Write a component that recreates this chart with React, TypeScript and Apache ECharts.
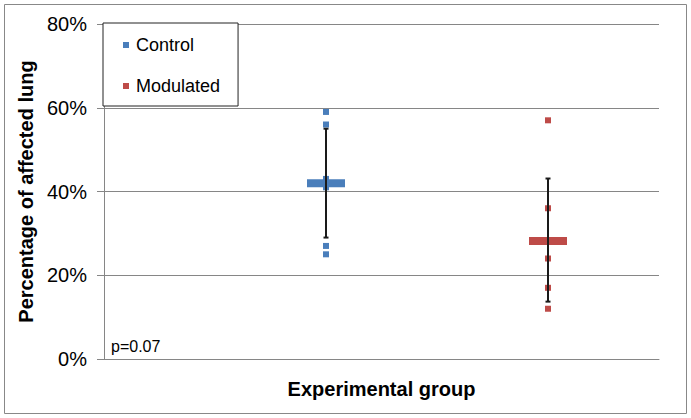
import React, { useEffect, useRef } from "react";
import * as echarts from "echarts";

const groupX = [1, 2];
const seriesNames = ["Control", "Modulated"];
const controlValues = [0.59, 0.56, 0.43, 0.41, 0.27, 0.25];
const modulatedValues = [0.57, 0.36, 0.24, 0.17, 0.12];
const meanValues = [0.42, 0.282];
const errorLow = [0.29, 0.137];
const errorHigh = [0.55, 0.431];
const yTicks = [0, 0.2, 0.4, 0.6, 0.8];
const pValueText = "p=0.07";

const FONT = 'Arial, "Liberation Sans", sans-serif';
const colors = ["#4A7EBB", "#BE4B48"];

export default function App() {
  const ref = useRef<HTMLDivElement>(null);
  useEffect(() => {
    document.body.style.margin = "0";
    if (!ref.current) return;
    const chart = echarts.init(ref.current, null, { renderer: "svg" });
    const pointsSeries = [controlValues, modulatedValues].map((vals, i) => ({
      name: seriesNames[i],
      type: "scatter",
      symbol: "rect",
      symbolSize: 6,
      itemStyle: { color: colors[i], opacity: 1 },
      data: vals.map((v) => [groupX[i], v]),
      z: 2,
    }));
    const meanSeries = meanValues.map((m, i) => ({
      name: seriesNames[i] + " mean",
      type: "scatter",
      symbol: "rect",
      symbolSize: [38, 8],
      itemStyle: { color: colors[i], opacity: 1 },
      data: [[groupX[i], m]],
      z: 3,
    }));
    const errSeries = {
      name: "error",
      type: "custom",
      z: 4,
      data: groupX.map((x, i) => [x, errorLow[i], errorHigh[i]]),
      renderItem: (params: any, api: any) => {
        const x = api.value(0);
        const lo = api.coord([x, api.value(1)]);
        const hi = api.coord([x, api.value(2)]);
        const style = { stroke: "#1a1a1a", lineWidth: 2 };
        const cw = 2.5;
        return {
          type: "group",
          children: [
            { type: "line", shape: { x1: lo[0], y1: lo[1], x2: hi[0], y2: hi[1] }, style },
            { type: "line", shape: { x1: lo[0] - cw, y1: lo[1], x2: lo[0] + cw, y2: lo[1] }, style },
            { type: "line", shape: { x1: hi[0] - cw, y1: hi[1], x2: hi[0] + cw, y2: hi[1] }, style },
          ],
        };
      },
    };
    chart.setOption({
      animation: false,
      backgroundColor: "#ffffff",
      textStyle: { fontFamily: FONT },
      grid: { left: 104, right: 32, top: 24, bottom: 59, containLabel: false },
      legend: {
        data: seriesNames,
        orient: "vertical",
        left: 103,
        top: 23,
        icon: "rect",
        itemWidth: 6,
        itemHeight: 6,
        itemGap: 21,
        padding: [12, 18, 10, 20],
        borderColor: "#222222",
        borderWidth: 1,
        backgroundColor: "#ffffff",
        itemStyle: { opacity: 1 },
        textStyle: { fontSize: 18, color: "#000000", fontFamily: FONT, lineHeight: 20, padding: [0, 0, 0, 2] },
        selectedMode: false,
        z: 10,
      },
      xAxis: {
        type: "value",
        min: 0,
        max: 2.5,
        interval: 0.5,
        name: "Experimental group",
        nameLocation: "middle",
        nameGap: 20,
        nameTextStyle: { fontSize: 20, fontWeight: "bold", color: "#000000", fontFamily: FONT, verticalAlign: "top" },
        axisLine: { show: true, lineStyle: { color: "#868686", width: 1 } },
        axisTick: { show: false },
        axisLabel: { show: false },
        splitLine: { show: false },
      },
      yAxis: {
        type: "value",
        min: yTicks[0],
        max: yTicks[yTicks.length - 1],
        interval: 0.2,
        name: "Percentage of affected lung",
        nameLocation: "middle",
        nameGap: 62,
        nameTextStyle: { fontSize: 20, fontWeight: "bold", color: "#000000", fontFamily: FONT },
        axisLine: { show: true, lineStyle: { color: "#868686", width: 1 } },
        axisTick: { show: true, length: 7, lineStyle: { color: "#868686" } },
        axisLabel: {
          fontSize: 20,
          color: "#000000",
          fontFamily: FONT,
          margin: 17,
          formatter: (v: number) => Math.round(v * 100) + "%",
        },
        splitLine: { show: true, lineStyle: { color: "#868686", width: 1 } },
      },
      graphic: [
        {
          type: "rect",
          shape: { x: 4.5, y: 4.5, width: 682, height: 409 },
          style: { fill: "none", stroke: "#888888", lineWidth: 1 },
          silent: true,
        },
        {
          type: "text",
          left: 111,
          top: 338,
          style: { text: pValueText, fontSize: 16, fill: "#000000", fontFamily: FONT },
          z: 10,
        },
      ],
      series: [...pointsSeries, ...meanSeries, errSeries],
    });
    return () => chart.dispose();
  }, []);
  return <div ref={ref} style={{ width: 691, height: 418 }} />;
}
